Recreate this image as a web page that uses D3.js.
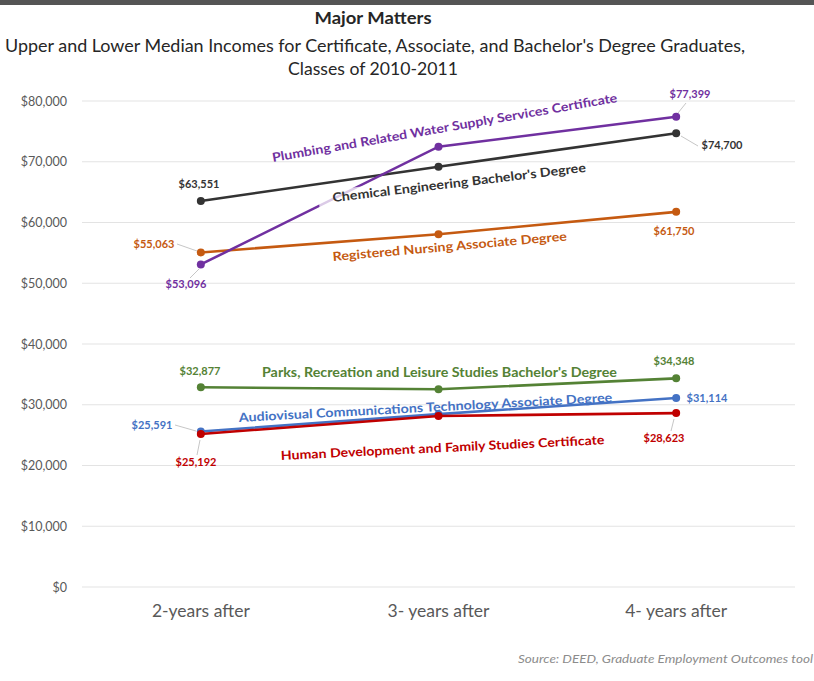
<!DOCTYPE html>
<html><head><meta charset="utf-8">
<script src="https://cdn.jsdelivr.net/npm/d3@7"></script>
<style>
body{margin:0;background:#fff;}
svg{display:block;font-family:Lato,"Open Sans",sans-serif;}
</style></head>
<body><svg id="chart" width="814" height="681"></svg>
<script>
// ---- data ----
const categories = ["2-years after", "3- years after", "4- years after"];
const yTicks = [0, 10000, 20000, 30000, 40000, 50000, 60000, 70000, 80000];
const seriesNames = [
  "Plumbing and Related Water Supply Services Certificate",
  "Chemical Engineering Bachelor's Degree",
  "Registered Nursing Associate Degree",
  "Parks, Recreation and Leisure Studies Bachelor's Degree",
  "Audiovisual Communications Technology Associate Degree",
  "Human Development and Family Studies Certificate"
];
const plumbing = [53096, 72480, 77399];
const chemical = [63551, 69190, 74700];
const nursing = [55063, 58060, 61750];
const parks = [32877, 32540, 34348];
const audiovisual = [25591, 28450, 31114];
const humanDev = [25192, 28150, 28623];
const seriesValues = [plumbing, chemical, nursing, parks, audiovisual, humanDev];
const seriesColors = ["#7030A0", "#333333", "#C55A11", "#548235", "#4472C4", "#C00000"];

// ---- layout (annotation placement) ----
const nameLayout = [
  {x: 273, y: 162, a: -9.9, len: 350},
  {x: 333, y: 202, a: -6.8, len: 255, bg: true},
  {x: 333, y: 261, a: -5.0, len: 235},
  {x: 262, y: 377, a: 0, len: 355},
  {x: 239, y: 422, a: -3.1, len: 374},
  {x: 281, y: 460, a: -2.8, len: 324}
];
const valueLayout = [
  [{cx:186, y:288, l:[190,278,199,269]}, {cx:690, y:98, l:[686,103,678,113]}],
  [{cx:199, y:188, l:null},               {cx:722, y:149, l:[681,136,698,146]}],
  [{cx:154, y:248, l:[177,244,197,251]}, {cx:674, y:235, l:null}],
  [{cx:200, y:375, l:null},               {cx:674, y:365, l:null}],
  [{cx:152, y:429, l:[175,425,196,431]}, {cx:707, y:402, l:null}],
  [{cx:196, y:466, l:[197,455,200,440]}, {cx:664, y:442, l:[671,431,674,419]}]
];

const svg = d3.select("#chart");
const fmt = d3.format("$,");

svg.append("rect").attr("x",0).attr("y",0).attr("width",814).attr("height",5).attr("fill","#555");

const x = d3.scaleBand().domain(categories).range([82, 795]);
const y = d3.scaleLinear().domain([0, 80000]).range([587, 101]);
const cx = d => x(d) + x.bandwidth()/2;

svg.append("g").selectAll("line").data(yTicks).join("line")
  .attr("x1", 82).attr("x2", 795)
  .attr("y1", d => y(d)).attr("y2", d => y(d))
  .attr("stroke", "#e3e3e3").attr("stroke-width", 1);

const yAxis = d3.axisLeft(y).tickValues(yTicks).tickFormat(fmt).tickSize(0).tickPadding(0);
const ya = svg.append("g").attr("transform","translate(67,0)").call(yAxis);
ya.select(".domain").remove();
ya.selectAll("text").attr("fill","#595959").style("font-size","12.5px").style("font-family","Lato,sans-serif");

const xAxis = d3.axisBottom(x).tickSize(0).tickPadding(0);
const xa = svg.append("g").attr("transform","translate(0,605)").call(xAxis);
xa.select(".domain").remove();
xa.selectAll("text").attr("fill","#595959").style("font-size","17.5px").style("font-family","Lato,sans-serif");

svg.append("text").attr("x",373).attr("y",24).attr("text-anchor","middle")
  .attr("fill","#262626").style("font-size","17.5px").style("font-weight","bold")
  .attr("textLength",117).attr("lengthAdjust","spacingAndGlyphs").text("Major Matters");
svg.append("text").attr("x",375).attr("y",52).attr("text-anchor","middle")
  .attr("fill","#262626").style("font-size","17px")
  .attr("textLength",740).attr("lengthAdjust","spacingAndGlyphs")
  .text("Upper and Lower Median Incomes for Certificate, Associate, and Bachelor's Degree Graduates,");
svg.append("text").attr("x",373).attr("y",75).attr("text-anchor","middle")
  .attr("fill","#262626").style("font-size","17px")
  .attr("textLength",170).attr("lengthAdjust","spacingAndGlyphs").text("Classes of 2010-2011");

const line = d3.line().x((d,i) => cx(categories[i])).y(d => y(d));
const order = [2,3,4,5,1,0];
order.forEach(s => {
  const g = svg.append("g");
  g.append("path").datum(seriesValues[s]).attr("d", line)
    .attr("fill","none").attr("stroke", seriesColors[s]).attr("stroke-width", 2.6);
  g.selectAll("circle").data(seriesValues[s]).join("circle")
    .attr("cx", (d,i) => cx(categories[i])).attr("cy", d => y(d)).attr("r", 4)
    .attr("fill", seriesColors[s]);
});

seriesValues.forEach((vals, s) => {
  [0, vals.length-1].forEach((idx, k) => {
    const L = valueLayout[s][k];
    if (L.l) {
      svg.append("line").attr("x1",L.l[0]).attr("y1",L.l[1]).attr("x2",L.l[2]).attr("y2",L.l[3])
        .attr("stroke","#bfbfbf").attr("stroke-width",0.9);
    }
    svg.append("text").attr("x", L.cx).attr("y", L.y).attr("text-anchor","middle")
      .attr("fill", seriesColors[s]).style("font-size","11px").style("font-weight","bold")
      .text(fmt(vals[idx]));
  });
});

seriesNames.forEach((n, s) => {
  const L = nameLayout[s];
  const g = svg.append("g").attr("transform", `translate(${L.x},${L.y}) rotate(${L.a})`);
  if (L.bg) {
    g.append("rect").attr("x",-14).attr("y",-12).attr("width",L.len+16).attr("height",16)
      .attr("fill","#fff").attr("opacity",0.75);
  }
  g.append("text")
    .attr("fill", seriesColors[s]).style("font-size","12.5px").style("font-weight","bold")
    .attr("textLength", L.len).attr("lengthAdjust","spacingAndGlyphs")
    .text(n);
});

svg.append("text").attr("x",813).attr("y",663).attr("text-anchor","end")
  .attr("fill","#8c8c8c").style("font-size","11px").style("font-style","italic")
  .attr("textLength",295).attr("lengthAdjust","spacingAndGlyphs")
  .text("Source: DEED, Graduate Employment Outcomes tool");
</script></body></html>
